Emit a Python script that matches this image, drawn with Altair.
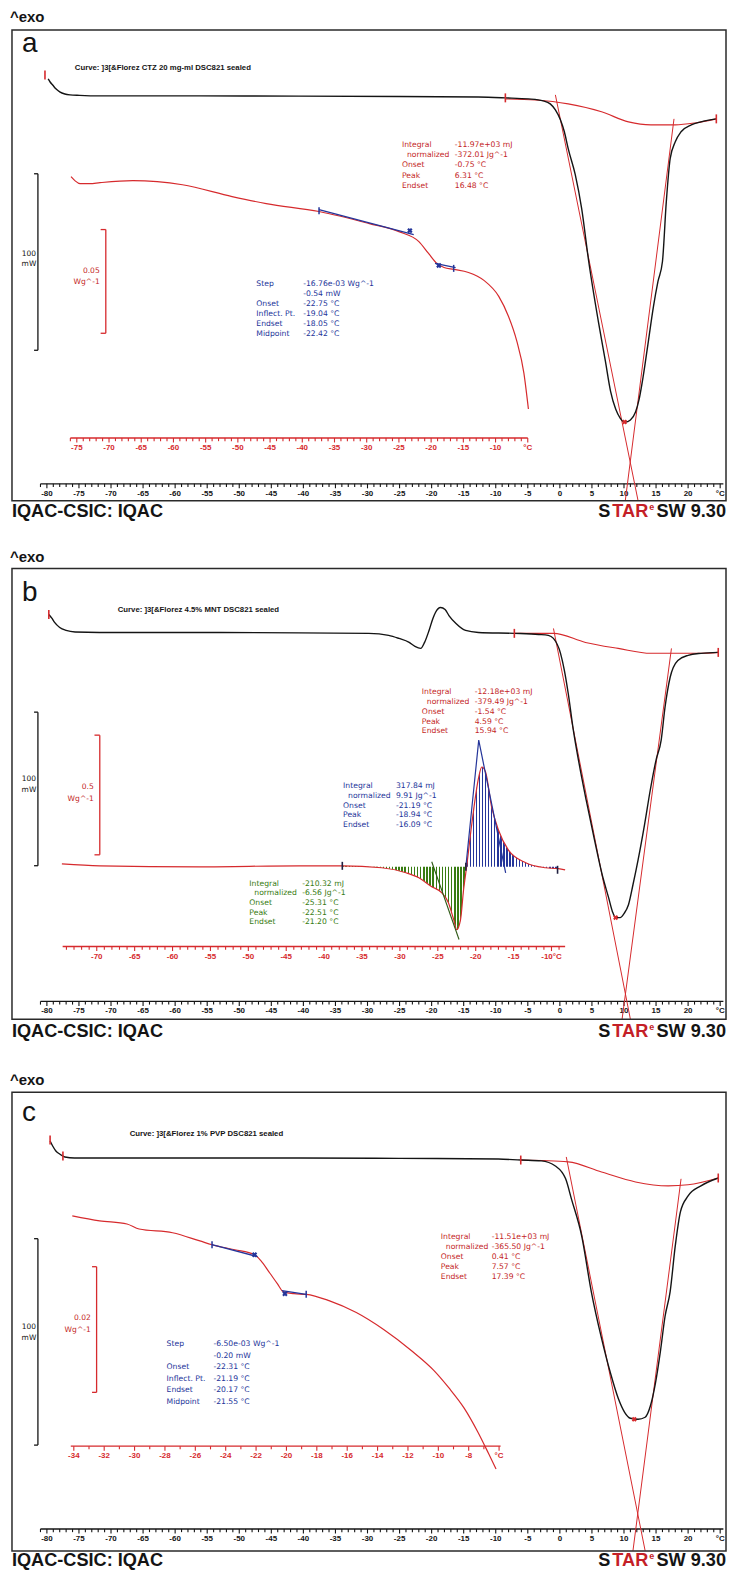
import altair as alt
import pandas as pd

# ===================== values =====================
# ---------- panel a : CTZ 20 mg-ml ----------
A_T = [-79.8, -79.5, -79.1, -78.6, -78.0, -77.2, -76.4, -74.9, -71.8, -56.2, -40.7,
       -25.1, -12.7, -8.5, -4.9, -2.6, -1.5, -0.7, 0.1, 0.7, 1.3, 2.4, 3.4, 4.5, 6.0,
       7.1, 7.9, 8.7, 9.4, 10.2, 11.0, 11.8, 12.4, 13.0, 13.8, 14.6, 15.3, 16.0, 16.6,
       17.2, 18.0, 18.9, 20.5, 22.0, 24.4]
A_HF = [9.6, 7.9, 6.2, 4.0, 2.3, 1.1, 0.6, 0.3, 0, 0, -0.1, -0.3, -0.6, -1.1, -1.7,
        -2.8, -4.5, -7.9, -13.6, -20.3, -29.9, -44.6, -63.8, -93.8, -127.7, -150.3,
        -167.2, -177.4, -182.5, -184.8, -183.6, -179.1, -171.2, -158.8, -139.0, -119.2,
        -105.1, -93.8, -59.9, -35.6, -26.0, -20.3, -16.4, -14.7, -13.0]
A_BASE_T = [-8.5, -3.8, 1.3, 6.5, 10.7, 14.2, 18.0, 21.1, 24.4]
A_BASE_HF = [-1.7, -2.3, -4.5, -9.0, -14.7, -16.4, -16.4, -15.3, -13.0]
A_TAN_T0 = [-0.7, 17.8]
A_TAN_HF0 = [0.6, -13.0]
A_TAN_T1 = [12.2, 10.2]
A_TAN_HF1 = [-229.4, -229.4]
A_LIM_T = [-80.3, -8.5, 24.4]
A_LIM_HF = [11.9, -1.1, -13.0]
A_PEAK_T = [10.1]
A_PEAK_HF = [-184.7]
# inset a (W/g)
AI_T = [-75.9, -75.3, -74.5, -73.0, -71.4, -66.3, -58.6, -50.9, -45.6, -37.4, -29.6,
        -25.0, -21.9, -20.4, -19.1, -18.0, -16.5, -14.2, -11.8, -9.5, -8.0, -6.7, -5.6, -4.9]
AI_W = [0.0029, 0.0010, -0.0005, -0.0005, 0.0, 0.0010, -0.0010, -0.0067, -0.0101,
        -0.0139, -0.0197, -0.0236, -0.0284, -0.0341, -0.0389, -0.0409, -0.0418, -0.0433,
        -0.0471, -0.0548, -0.0644, -0.0764, -0.0918, -0.1091]
AI_TAN_T0 = [-37.4, -19.4]
AI_TAN_W0 = [-0.0130, -0.0389]
AI_TAN_T1 = [-22.7, -16.2]
AI_TAN_W1 = [-0.0250, -0.0409]
AI_LIM_T = [-37.4, -16.5]
AI_LIM_W = [-0.0135, -0.0413]
AI_PT_T = [-23.3, -18.8]
AI_PT_W = [-0.0231, -0.0399]

# ---------- panel b : 4.5% MNT ----------
B_T = [-79.7, -79.2, -78.8, -78.0, -77.0, -75.6, -71.8, -56.2, -40.7, -29.8, -26.7,
       -25.1, -23.5, -22.6, -21.7, -21.1, -20.4, -19.8, -19.4, -18.6, -17.9, -17.3,
       -16.2, -14.7, -12.7, -7.1, -3.3, -1.8, -1.0, 0.1, 0.7, 1.3, 2.1, 2.9, 4.1, 5.4,
       6.6, 7.6, 8.2, 8.7, 9.4, 10.0, 10.7, 11.4, 12.2, 13.2, 14.1, 15.0, 15.8, 16.4,
       17.2, 18.4, 20.0, 22.0, 24.7]
B_HF = [11.7, 9.1, 6.5, 3.2, 1.3, 0.3, 0, 0, -0.3, -0.6, -1.9, -3.9, -6.5, -9.1, -10.4,
        -6.5, 1.3, 9.1, 13.0, 16.2, 14.9, 11.0, 5.8, 1.3, 0, -0.6, -1.3, -1.9, -3.9,
        -13.6, -24.7, -39.6, -63.6, -83.1, -109.1, -135.1, -157.8, -172.7, -181.8,
        -185.7, -185.7, -183.1, -177.3, -164.3, -148.1, -125.3, -102.6, -83.1, -70.1,
        -48.7, -29.2, -18.2, -14.9, -13.6, -13.0]
B_BASE_T = [-7.1, -1.0, 4.0, 9.1, 14.2, 17.2, 22.0, 24.7]
B_BASE_HF = [-0.6, -0.6, -6.5, -10.4, -13.6, -13.6, -13.6, -13.0]
B_TAN_T0 = [-1.0, 17.4]
B_TAN_HF0 = [2.6, -10.4]
B_TAN_T1 = [11.0, 9.7]
B_TAN_HF1 = [-251.9, -251.9]
B_LIM_T = [-79.7, -7.1, 24.7]
B_LIM_HF = [11.7, -0.6, -13.0]
B_PEAK_T = [8.7]
B_PEAK_HF = [-185.7]
# inset b (W/g)
BI_T = [-74.6, -69.6, -56.4, -43.3, -37.6, -32.4, -29.2, -27.5, -25.8, -24.5, -23.6,
        -22.9, -22.5, -22.0, -21.6, -21.2, -20.5, -19.6, -19.2, -18.7, -17.9, -17.0,
        -15.7, -13.4, -10.8, -9.1, -8.2]
BI_W = [0.012, 0.004, 0.0, 0.004, 0.004, -0.004, -0.025, -0.046, -0.083, -0.108, -0.150,
        -0.221, -0.263, -0.221, -0.096, 0.0, 0.183, 0.375, 0.417, 0.396, 0.250, 0.154,
        0.071, 0.017, -0.004, -0.008, -0.013]
BI_EXO = (-37.6, -21.2)     # exothermic (green) integration limits
BI_ENDO = (-21.2, -9.1)     # endothermic (blue) integration limits
BI_GTAN_T = [-25.8, -22.2]
BI_GTAN_W = [0.021, -0.304]
BI_BTAN_T = [-21.3, -19.6, -16.05]
BI_BTAN_W = [0.0, 0.529, -0.025]
BI_LIM_T = [-37.6, -21.3, -9.2]
BI_LIM_W = [0.004, 0.0, -0.0125]

# ---------- panel c : 1% PVP ----------
C_T = [-79.5, -79.1, -78.6, -78.0, -77.2, -75.7, -71.8, -56.2, -40.7, -25.1, -9.6, -6.1,
       -2.9, -0.7, 0.9, 1.8, 3.4, 4.9, 6.5, 7.9, 9.1, 10.1, 11.0, 12.2, 13.3, 14.1, 14.9,
       15.7, 16.4, 17.2, 18.0, 18.8, 20.0, 22.0, 24.7]
C_HF = [8.2, 5.8, 3.4, 1.9, 0.5, 0, 0, 0, 0, -0.2, -0.5, -1.0, -1.4, -3.9, -10.1, -19.8,
        -37.7, -64.7, -87.4, -104.3, -116.4, -123.2, -126.1, -126.6, -125.6, -120.3,
        -109.2, -93.2, -76.8, -64.7, -42.5, -26.1, -18.4, -13.5, -9.7]
C_BASE_T = [-6.1, 1.3, 6.5, 11.8, 16.9, 20.0, 24.7]
C_BASE_HF = [-1.0, -1.9, -6.8, -11.6, -13.5, -13.0, -9.7]
C_TAN_T0 = [1.0, 18.9]
C_TAN_HF0 = [0.5, -10.1]
C_TAN_T1 = [13.3, 11.4]
C_TAN_HF1 = [-190.3, -190.3]
C_LIM_T = [-79.5, -77.5, -6.1, 24.7]
C_LIM_HF = [8.7, 1.0, -1.0, -9.7]
C_PEAK_T = [11.6]
C_PEAK_HF = [-126.6]
# inset c (W/g)
CI_T = [-34.1, -32.3, -30.5, -29.7, -27.5, -25.7, -24.9, -23.4, -22.1, -21.7, -21.1,
        -20.6, -20.2, -19.5, -18.7, -17.2, -15.4, -13.6, -11.7, -10.3, -9.3, -8.3, -7.4,
        -6.7, -6.2]
CI_W = [0.0, -0.0008, -0.0013, -0.0021, -0.0027, -0.0040, -0.0046, -0.0054, -0.0062,
        -0.0071, -0.0091, -0.0108, -0.0121, -0.0124, -0.0125, -0.0135, -0.0154, -0.0181,
        -0.0216, -0.0246, -0.0274, -0.0306, -0.0344, -0.0378, -0.0403]
CI_TAN_T0 = [-24.9, -20.3]
CI_TAN_W0 = [-0.0046, -0.0119]
CI_TAN_T1 = [-21.9, -18.7]
CI_TAN_W1 = [-0.0065, -0.0125]
CI_LIM_T = [-24.9, -18.7]
CI_LIM_W = [-0.0046, -0.0125]
CI_PT_T = [-22.1, -20.1]
CI_PT_W = [-0.0062, -0.0124]

# ---------- axes: ticks and tick labels ----------
MAIN_TICKS = list(range(-81, 26))
MAIN_LABEL_T = [-80, -75, -70, -65, -60, -55, -50, -45, -40, -35, -30, -25, -20, -15, -10, -5, 0, 5, 10, 15, 20, 25]
MAIN_LABEL_S = ["-80", "-75", "-70", "-65", "-60", "-55", "-50", "-45", "-40", "-35", "-30", "-25",
                "-20", "-15", "-10", "-5", "0", "5", "10", "15", "20", "°C"]
AI_TICKS = list(range(-76, -4))
AI_LABEL_T = [-75, -70, -65, -60, -55, -50, -45, -40, -35, -30, -25, -20, -15, -10, -5]
AI_LABEL_S = ["-75", "-70", "-65", "-60", "-55", "-50", "-45", "-40", "-35", "-30", "-25", "-20", "-15", "-10", "°C"]
BI_TICKS = list(range(-74, -8))
BI_LABEL_T = [-70, -65, -60, -55, -50, -45, -40, -35, -30, -25, -20, -15, -10]
BI_LABEL_S = ["-70", "-65", "-60", "-55", "-50", "-45", "-40", "-35", "-30", "-25", "-20", "-15", "-10°C"]
CI_TICKS = list(range(-34, -5))
CI_LABEL_T = [-34, -32, -30, -28, -26, -24, -22, -20, -18, -16, -14, -12, -10, -8, -6]
CI_LABEL_S = ["-34", "-32", "-30", "-28", "-26", "-24", "-22", "-20", "-18", "-16", "-14", "-12", "-10", "-8", "°C"]

# ---------- texts ----------
A_CURVE = "Curve: ]3[&Florez CTZ 20 mg-ml DSC821 sealed"
B_CURVE = "Curve: ]3[&Florez 4.5% MNT DSC821 sealed"
C_CURVE = "Curve: ]3[&Florez 1% PVP DSC821 sealed"
INT_LABELS = ["Integral", "normalized", "Onset", "Peak", "Endset"]
STEP_LABELS = ["Step", "", "Onset", "Inflect. Pt.", "Endset", "Midpoint"]
A_RED_VALUES = ["-11.97e+03 mJ", "-372.01 Jg^-1", "-0.75 °C", "6.31 °C", "16.48 °C"]
A_BLUE_VALUES = ["-16.76e-03 Wg^-1", "-0.54 mW", "-22.75 °C", "-19.04 °C", "-18.05 °C", "-22.42 °C"]
B_RED_VALUES = ["-12.18e+03 mJ", "-379.49 Jg^-1", "-1.54 °C", "4.59 °C", "15.94 °C"]
B_BLUE_VALUES = ["317.84 mJ", "9.91 Jg^-1", "-21.19 °C", "-18.94 °C", "-16.09 °C"]
B_GREEN_VALUES = ["-210.32 mJ", "-6.56 Jg^-1", "-25.31 °C", "-22.51 °C", "-21.20 °C"]
C_RED_VALUES = ["-11.51e+03 mJ", "-365.50 Jg^-1", "0.41 °C", "7.57 °C", "17.39 °C"]
C_BLUE_VALUES = ["-6.50e-03 Wg^-1", "-0.20 mW", "-22.31 °C", "-21.19 °C", "-20.17 °C", "-21.55 °C"]
MAIN_BAR = 100          # mW
A_INSET_BAR = 0.05      # W/g
B_INSET_BAR = 0.5
C_INSET_BAR = 0.02

# ===================== layout / style =====================
BLACK = "#141414"
RED = "#d62a2d"
TRED = "#c41f27"
BLUE = "#24359a"
GREEN = "#387c12"
FONT = "Liberation Sans"
SMALL = "DejaVu Sans"
OX, OY = 12, 28           # page position of the plot origin
W, H = 716, 1525
ONE = pd.DataFrame({"k": [0]})


def xscale(t0, p0, k, lo, hi):
    return alt.Scale(domain=[lo, hi], range=[p0 + (lo - t0) * k - OX, p0 + (hi - t0) * k - OX],
                     nice=False, zero=False)


def yscale(p0, k, top, bot):
    return alt.Scale(domain=[(p0 - bot) / k, (p0 - top) / k], range=[bot - OY, top - OY],
                     nice=False, zero=False)


def enc(ch, xs, ys, x2=False, y2=False):
    e = dict(x=alt.X("T:Q", scale=xs, axis=None), y=alt.Y("v:Q", scale=ys, axis=None))
    if x2:
        e["x2"] = alt.X2("T1")
    if y2:
        e["y2"] = alt.Y2("v1")
    return ch.encode(**e)


def seg(t0, v0, t1, v1):
    return pd.DataFrame({"T": t0, "v": v0, "T1": t1, "v1": v1})


def pts(t, v):
    return pd.DataFrame({"T": t, "v": v})


def temp_axis(xs, ys, k, axis_v, lo, hi, ticks, lab_t, lab_s, color):
    major = set(lab_t)
    tick_df = pd.DataFrame({"T": ticks, "v": [axis_v] * len(ticks),
                            "v1": [axis_v - (4.5 if t in major else 3.2) / k for t in ticks]})
    dom = pd.DataFrame({"T": [lo], "T1": [hi], "v": [axis_v]})
    lab = pd.DataFrame({"T": lab_t, "v": [axis_v] * len(lab_t), "s": lab_s})
    return [
        enc(alt.Chart(dom).mark_rule(color=color, strokeWidth=1.4), xs, ys, x2=True),
        enc(alt.Chart(tick_df).mark_rule(color=color, strokeWidth=1.1), xs, ys, y2=True),
        enc(alt.Chart(lab).mark_text(color=color, font=FONT, fontSize=8, fontWeight="bold",
                                     baseline="middle", dy=10), xs, ys).encode(text="s:N"),
    ]


def scale_bar(xs, ys, x, xl, top, size, color):
    bar = pd.DataFrame({"T": [x], "v": [top], "v1": [top - size]})
    ends = pd.DataFrame({"T": [xl, xl], "T1": [x, x], "v": [top, top - size]})
    return [enc(alt.Chart(bar).mark_rule(color=color, strokeWidth=1.3), xs, ys, y2=True),
            enc(alt.Chart(ends).mark_rule(color=color, strokeWidth=1.3), xs, ys, x2=True)]


def main_group(T, HF, bT, bHF, tan, lim, pk, top, bot, ref, k, axis_page, bar_top):
    xs = xscale(-80, 47, 6.43, -81, 25.5)
    ys = yscale(ref, k, top, bot)
    L = temp_axis(xs, ys, k, (ref - axis_page) / k, -81, 25.5, MAIN_TICKS, MAIN_LABEL_T, MAIN_LABEL_S, BLACK)
    L += [
        enc(alt.Chart(pts(bT, bHF)).mark_line(color=RED, strokeWidth=1.1, interpolate="monotone"), xs, ys),
        enc(alt.Chart(seg(*tan)).mark_rule(color=RED, strokeWidth=1.0), xs, ys, x2=True, y2=True),
        enc(alt.Chart(pts(T, HF)).mark_line(color=BLACK, strokeWidth=1.4, interpolate="monotone"), xs, ys),
        enc(alt.Chart(pts(*lim)).mark_tick(orient="vertical", size=9, thickness=1.6, color=RED, opacity=1), xs, ys),
        enc(alt.Chart(pts(*pk)).mark_point(shape="cross", angle=45, size=26, filled=True, color=RED, opacity=1), xs, ys),
    ]
    L += scale_bar(xs, ys, -81.4, -82.0, bar_top, MAIN_BAR, BLACK)
    return alt.layer(*L)


def inset_group(T, Wv, xspec, axis_page, ticks, lab_t, lab_s, ref, k, top, bot, bar, extra):
    xs = xscale(*xspec)
    ys = yscale(ref, k, top, bot)
    L = temp_axis(xs, ys, k, (ref - axis_page) / k, xspec[3], xspec[4], ticks, lab_t, lab_s, RED)
    L += [f(xs, ys) for f in extra.get("under", [])]
    L.append(enc(alt.Chart(pts(T, Wv)).mark_line(color=RED, strokeWidth=1.2, interpolate="monotone"), xs, ys))
    L += [f(xs, ys) for f in extra.get("over", [])]
    L += scale_bar(xs, ys, bar[0], bar[1], bar[2], bar[3], RED)
    return alt.layer(*L)


def hatch(color, n):
    clear = "rgba(255,255,255,0)"
    stops = []
    for i in range(n):
        a = round(i / n, 5)
        b = round((i + 0.45) / n, 5)
        stops += [alt.GradientStop(color=clear, offset=a), alt.GradientStop(color=color, offset=a),
                  alt.GradientStop(color=color, offset=b), alt.GradientStop(color=clear, offset=b)]
    return alt.LinearGradient(gradient="linear", stops=stops, x1=0, x2=1, y1=0, y2=0)


def blue_bits(tan, lim, crosses):
    def f1(xs, ys):
        return enc(alt.Chart(seg(*tan)).mark_rule(color=BLUE, strokeWidth=1.3), xs, ys, x2=True, y2=True)

    def f2(xs, ys):
        return enc(alt.Chart(pts(*lim)).mark_tick(orient="vertical", size=7, thickness=1.5, color=BLUE, opacity=1), xs, ys)

    def f3(xs, ys):
        return enc(alt.Chart(pts(*crosses)).mark_point(shape="cross", angle=45, size=30, filled=True, color=BLUE, opacity=1), xs, ys)
    return [f1, f2, f3]


# ---------- panel b inset extras ----------
bi = pts(BI_T, BI_W)
bi_exo = bi[(bi["T"] >= BI_EXO[0]) & (bi["T"] <= BI_EXO[1])]
bi_endo = bi[(bi["T"] >= BI_ENDO[0]) & (bi["T"] <= BI_ENDO[1])]


def b_green_area(xs, ys):
    return alt.Chart(bi_exo).mark_area(color=hatch(GREEN, 40), interpolate="monotone").encode(
        x=alt.X("T:Q", scale=xs, axis=None), y=alt.Y("v:Q", scale=ys, axis=None), y2=alt.Y2Datum(0))


def b_blue_area(xs, ys):
    return alt.Chart(bi_endo).mark_area(color=hatch(BLUE, 30), interpolate="monotone").encode(
        x=alt.X("T:Q", scale=xs, axis=None), y=alt.Y("v:Q", scale=ys, axis=None), y2=alt.Y2Datum(0))


def b_green_tan(xs, ys):
    return enc(alt.Chart(pts(BI_GTAN_T, BI_GTAN_W)).mark_line(color="#2f5a17", strokeWidth=1.1), xs, ys)


def b_blue_tan(xs, ys):
    return enc(alt.Chart(pts(BI_BTAN_T, BI_BTAN_W).assign(o=[0, 1, 2])).mark_line(color=BLUE, strokeWidth=1.2), xs, ys).encode(order="o:O")


def b_lims(xs, ys):
    return enc(alt.Chart(pts(BI_LIM_T, BI_LIM_W)).mark_tick(orient="vertical", size=8, thickness=1.6, color="#202040", opacity=1), xs, ys)


# ---------- groups ----------
groups = [
    main_group(A_T, A_HF, A_BASE_T, A_BASE_HF, (A_TAN_T0, A_TAN_HF0, A_TAN_T1, A_TAN_HF1),
               (A_LIM_T, A_LIM_HF), (A_PEAK_T, A_PEAK_HF), 28, 500, 94, 1.77, 483, -44.1),
    inset_group(AI_T, AI_W, (-75, 77, 6.46, -76, -5), 437, AI_TICKS, AI_LABEL_T, AI_LABEL_S,
                181, 2080, 28, 500, (-70.5, -71.3, -0.0226, A_INSET_BAR),
                {"over": blue_bits((AI_TAN_T0, AI_TAN_W0, AI_TAN_T1, AI_TAN_W1),
                                   (AI_LIM_T, AI_LIM_W), (AI_PT_T, AI_PT_W))}),
    main_group(B_T, B_HF, B_BASE_T, B_BASE_HF, (B_TAN_T0, B_TAN_HF0, B_TAN_T1, B_TAN_HF1),
               (B_LIM_T, B_LIM_HF), (B_PEAK_T, B_PEAK_HF), 568, 1020, 632, 1.54, 1002, -51.9),
    inset_group(BI_T, BI_W, (-70, 97, 7.6, -74.5, -8.2), 947, BI_TICKS, BI_LABEL_T, BI_LABEL_S,
                867, 240, 568, 1020, (-69.6, -70.3, 0.55, B_INSET_BAR),
                {"under": [b_green_area, b_blue_area], "over": [b_green_tan, b_blue_tan, b_lims]}),
    main_group(C_T, C_HF, C_BASE_T, C_BASE_HF, (C_TAN_T0, C_TAN_HF0, C_TAN_T1, C_TAN_HF1),
               (C_LIM_T, C_LIM_HF), (C_PEAK_T, C_PEAK_HF), 1093, 1553, 1159, 2.07, 1531, -39.1),
    inset_group(CI_T, CI_W, (-34, 74, 15.23, -34.2, -5.9), 1448, CI_TICKS, CI_LABEL_T, CI_LABEL_S,
                1217, 6300, 1093, 1553, (-32.5, -32.8, -0.0081, C_INSET_BAR),
                {"over": blue_bits((CI_TAN_T0, CI_TAN_W0, CI_TAN_T1, CI_TAN_W1),
                                   (CI_LIM_T, CI_LIM_W), (CI_PT_T, CI_PT_W))}),
]


# ---------- frames and texts (page positions) ----------
def frame(top, bot):
    return alt.Chart(ONE).mark_rect(filled=False, color="#2a2a2a", strokeWidth=1.5).encode(
        x=alt.value(0), x2=alt.value(W), y=alt.value(top - OY), y2=alt.value(bot - OY))


def text(s, x, base, color=BLACK, size=7.7, align="left", weight="normal", lh=10.0, font=SMALL):
    kw = dict(text=s, color=color, fontSize=size, align=align, fontWeight=weight,
              font=font, baseline="alphabetic", lineHeight=lh)
    return alt.Chart(ONE).mark_text(**kw).encode(x=alt.value(x - OX), y=alt.value(base - OY))


deco = [frame(28, 500), frame(568, 1020), frame(1093, 1553)]
for base_exo, base_letter, letter, cx, cbase, ctext, base_foot in [
        (20, 50, "a", 75, 68.5, A_CURVE, 516.5),
        (561, 600, "b", 118, 611.5, B_CURVE, 1037.5),
        (1086, 1122, "c", 130, 1136.5, C_CURVE, 1568)]:
    deco += [
        text("^exo", 10, base_exo, size=15, weight="bold", font=FONT),
        text(letter, 22, base_letter, size=28, font="Liberation Sans Narrow, Liberation Sans"),
        text(ctext, cx, cbase, size=7.8, weight="bold", font=FONT),
        text("IQAC-CSIC: IQAC", 12, base_foot, size=18.2, weight="bold", font=FONT),
        text("S", 612, base_foot, size=18.2, align="right", weight="bold", font=FONT),
        text("TAR", 650, base_foot, color=TRED, size=18.2, align="right", weight="bold", font=FONT),
        text("e", 651, base_foot - 7, color=TRED, size=9, weight="bold", font=FONT),
        text("SW 9.30", 728, base_foot, size=18.2, align="right", weight="bold", font=FONT),
    ]

blocks = [
    (INT_LABELS, A_RED_VALUES, 403, 456, 145, 10.3, TRED),
    (STEP_LABELS, A_BLUE_VALUES, 257, 304, 285, 9.9, BLUE),
    (INT_LABELS, B_RED_VALUES, 423, 476, 694, 9.8, TRED),
    (INT_LABELS, B_BLUE_VALUES, 344, 397, 788, 9.8, BLUE),
    (INT_LABELS, B_GREEN_VALUES, 250, 303, 886, 9.7, GREEN),
    (INT_LABELS, C_RED_VALUES, 442, 493, 1240, 10.0, TRED),
    (STEP_LABELS, C_BLUE_VALUES, 167, 214, 1348, 11.5, BLUE),
]
for labels, values, lx, vx, base, lh, col in blocks:
    deco.append(text(values, vx, base, color=col, lh=lh))
    for i, lab in enumerate(labels):
        if lab:
            indent = 5 if lab == "normalized" else 0
            deco.append(text(lab, lx + indent, base + i * lh, color=col, lh=lh))

deco += [
    text(["100", "mW"], 29, 255, size=7.5, align="center", lh=10),
    text(["0.05", "Wg^-1"], 100, 272, color=TRED, size=7.6, align="right", lh=11),
    text(["100", "mW"], 29, 781, size=7.5, align="center", lh=11),
    text(["0.5", "Wg^-1"], 94, 789, color=TRED, size=7.6, align="right", lh=12),
    text(["100", "mW"], 29, 1330, size=7.5, align="center", lh=12),
    text(["0.02", "Wg^-1"], 91, 1321, color=TRED, size=7.6, align="right", lh=13),
]

chart = alt.layer(*groups, *deco).resolve_scale(x="independent", y="independent").properties(
    width=W, height=H, background="white",
    padding={"left": OX - 8, "top": OY - 8, "right": 2, "bottom": 17},
    autosize=alt.AutoSizeParams(type="none"),
).configure_view(stroke=None)

chart.save("out.html", embed_options={"renderer": "svg", "actions": False})
